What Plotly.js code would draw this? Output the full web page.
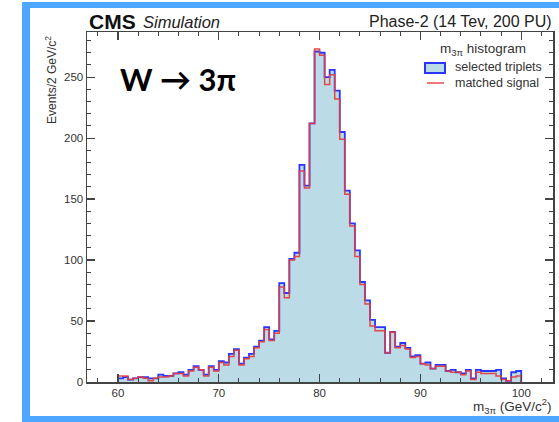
<!DOCTYPE html>
<html>
<head>
<meta charset="utf-8">
<script src="https://cdn.plot.ly/plotly-3.0.1.min.js"></script>
<style>
  html, body { margin: 0; padding: 0; background: #fff; }
  #chart { width: 559px; height: 422px; }
</style>
</head>
<body>
<div id="chart"></div>
<script>
// ---- data (bin contents, 0.5 GeV bins from 60 to 100) ----
const binLow = 60;
const binWidth = 0.5;
const selectedTriplets = [
  3, 4, 2, 3, 4, 4, 3, 3, 6, 5,
  5, 7, 8, 6, 10, 13, 10, 6, 13, 10,
  17, 16, 23, 27, 15, 20, 23, 29, 34, 45,
  35, 42, 81, 73, 101, 106, 178, 161, 212, 271,
  270, 250, 256, 239, 205, 157, 130, 108, 82, 67,
  51, 45, 45, 24, 41, 29, 32, 28, 21, 22,
  15, 16, 11, 14, 14, 9, 10, 8, 7, 10,
  3, 10, 9, 9, 9, 10, 3, 1, 8, 9
];
const matchedSignal = [
  5, 5, 2, 3, 4, 3, 1, 3, 4, 4,
  5, 7, 7, 5, 9, 12, 10, 5, 12, 9,
  16, 14, 21, 26, 14, 19, 21, 28, 33, 43,
  34, 40, 78, 69, 100, 103, 173, 159, 212, 273,
  268, 244, 252, 232, 199, 154, 128, 103, 80, 64,
  46, 42, 42, 24, 41, 28, 30, 27, 20, 21,
  15, 14, 11, 13, 13, 9, 8, 8, 6, 9,
  2, 8, 7, 7, 7, 5, 2, 1, 4, 5
];
const xTickVals = [60, 70, 80, 90, 100];
const yTickVals = [0, 50, 100, 150, 200, 250];
const seriesNames = ['selected triplets', 'matched signal'];

// step outline from bin contents
function stepXY(vals) {
  const xs = [binLow], ys = [0];
  for (let i = 0; i < vals.length; i++) { xs.push(binLow + i * binWidth); ys.push(vals[i]); }
  xs.push(binLow + vals.length * binWidth); ys.push(0);
  return { xs, ys };
}
const s1 = stepXY(selectedTriplets);
const s2 = stepXY(matchedSignal);

// layout geometry (pixels)
const W = 559, H = 422;
const L = 87, R = 553, T = 32, B = 382;
const px = v => (v - L) / (R - L);
const py = v => (B - v) / (B - T);

const FONT = 'Liberation Sans, Arial, Helvetica, sans-serif';
const AX = '#444';

const traces = [
  {
    type: 'scatter', mode: 'lines', name: seriesNames[0],
    x: s1.xs, y: s1.ys,
    line: { shape: 'hv', color: '#2a36ff', width: 1.8 },
    fill: 'tozeroy', fillcolor: '#bbdce7',
    hoverinfo: 'skip', showlegend: false
  },
  {
    type: 'scatter', mode: 'lines', name: seriesNames[1],
    x: s2.xs, y: s2.ys,
    line: { shape: 'hv', color: 'rgba(228,60,60,0.92)', width: 1.5 },
    hoverinfo: 'skip', showlegend: false
  }
];

const axisCommon = {
  showgrid: false, zeroline: false,
  showline: true, linecolor: AX, linewidth: 1.5, mirror: 'ticks',
  ticks: 'inside', ticklen: 8, tickwidth: 1.2, tickcolor: AX,
  tickfont: { family: FONT, size: 11.5, color: '#333' }
};

const layout = {
  width: W, height: H,
  margin: { l: L, r: W - R, t: T, b: H - B, pad: 0 },
  paper_bgcolor: '#ffffff', plot_bgcolor: '#ffffff',
  showlegend: false,
  xaxis: Object.assign({}, axisCommon, {
    range: [56.93, 103.15], tickmode: 'array', tickvals: xTickVals,
    minor: { dtick: 2, tick0: 0, ticks: 'inside', ticklen: 4, tickcolor: AX, tickwidth: 1, showgrid: false }
  }),
  yaxis: Object.assign({}, axisCommon, {
    range: [0, 287], tickmode: 'array', tickvals: yTickVals,
    minor: { dtick: 10, tick0: 0, ticks: 'inside', ticklen: 4, tickcolor: AX, tickwidth: 1, showgrid: false }
  }),
  shapes: [
    // blue frame
    { type: 'rect', xref: 'paper', yref: 'paper', x0: px(22), x1: px(30), y0: py(422), y1: py(2), fillcolor: '#4da6ff', line: { width: 0 }, layer: 'above' },
    { type: 'rect', xref: 'paper', yref: 'paper', x0: px(22), x1: px(559), y0: py(8), y1: py(2), fillcolor: '#4da6ff', line: { width: 0 }, layer: 'above' },
    { type: 'rect', xref: 'paper', yref: 'paper', x0: px(22), x1: px(559), y0: py(422), y1: py(416), fillcolor: '#4da6ff', line: { width: 0 }, layer: 'above' },
    // legend swatches
    { type: 'rect', xref: 'paper', yref: 'paper', x0: px(425), x1: px(445), y0: py(73), y1: py(63), fillcolor: '#bbdce7', line: { color: '#2a36ff', width: 2 }, layer: 'above' },
    { type: 'line', xref: 'paper', yref: 'paper', x0: px(427), x1: px(444), y0: py(83), y1: py(83), line: { color: 'rgba(228,60,60,0.92)', width: 1.5 }, layer: 'above' }
  ],
  annotations: [
    { xref: 'paper', yref: 'paper', x: px(87), y: py(21), xanchor: 'left', yanchor: 'middle', showarrow: false,
      text: '<b>CMS</b>', font: { family: FONT, size: 21, color: '#111' } },
    { xref: 'paper', yref: 'paper', x: px(141), y: py(22), xanchor: 'left', yanchor: 'middle', showarrow: false,
      text: '<i>Simulation</i>', font: { family: FONT, size: 16.5, color: '#222' } },
    { xref: 'paper', yref: 'paper', x: px(554), y: py(21), xanchor: 'right', yanchor: 'middle', showarrow: false,
      text: 'Phase-2 (14 Tev, 200 PU)', font: { family: FONT, size: 16, color: '#222' } },
    { xref: 'paper', yref: 'paper', x: px(118), y: py(79), xanchor: 'left', yanchor: 'middle', showarrow: false,
      text: '<b>W \u2192 3\u03c0</b>', font: { family: 'Lato, DejaVu Sans, sans-serif', size: 31, color: '#000' } },
    { xref: 'paper', yref: 'paper', x: px(483), y: py(49), xanchor: 'center', yanchor: 'middle', showarrow: false,
      text: 'm<sub>3\u03c0</sub> histogram', font: { family: FONT, size: 13.5, color: '#333' } },
    { xref: 'paper', yref: 'paper', x: px(453), y: py(67), xanchor: 'left', yanchor: 'middle', showarrow: false,
      text: seriesNames[0], font: { family: FONT, size: 12.5, color: '#333' } },
    { xref: 'paper', yref: 'paper', x: px(453), y: py(83), xanchor: 'left', yanchor: 'middle', showarrow: false,
      text: seriesNames[1], font: { family: FONT, size: 12.5, color: '#333' } },
    { xref: 'paper', yref: 'paper', x: px(51), y: py(34), xanchor: 'center', yanchor: 'top', showarrow: false,
      textangle: -90, text: 'Events/2 GeV/c<sup>2</sup>', font: { family: FONT, size: 12, color: '#333' } },
    { xref: 'paper', yref: 'paper', x: px(554), y: py(406), xanchor: 'right', yanchor: 'middle', showarrow: false,
      text: 'm<sub>3\u03c0</sub> (GeV/c<sup>2</sup>)', font: { family: FONT, size: 13.5, color: '#333' } }
  ]
};

Plotly.newPlot('chart', traces, layout, { displayModeBar: false, staticPlot: true });
</script>
</body>
</html>
